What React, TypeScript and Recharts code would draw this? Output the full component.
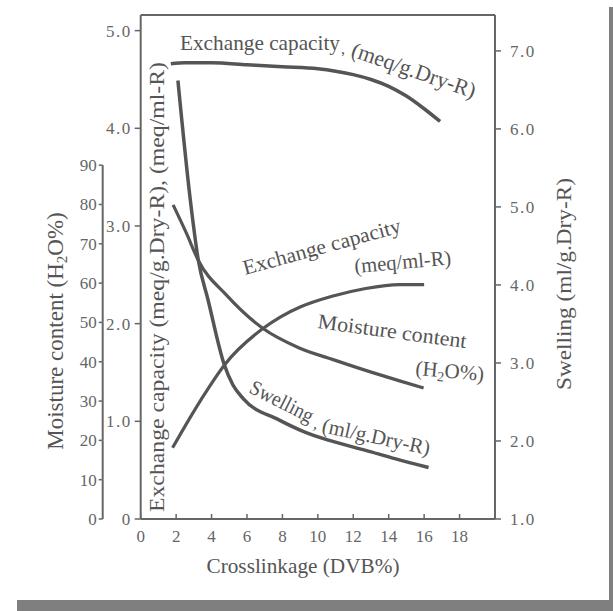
import React from "react";
import { ComposedChart, Line, XAxis, YAxis, ReferenceLine } from "recharts";

// axis ticks
const dvbTicks = [0, 2, 4, 6, 8, 10, 12, 14, 16, 18];
const capTicks = [0, 1, 2, 3, 4, 5];
const moistTicks = [0, 10, 20, 30, 40, 50, 60, 70, 80, 90];
const swellTicks = [1, 2, 3, 4, 5, 6, 7];

// Exchange capacity (meq/g.Dry-R)
const capDryDvb = [1.7, 2.5, 4, 6, 8, 10, 11, 12, 13, 14, 15, 16, 16.9];
const capDryVal = [4.66, 4.67, 4.67, 4.65, 4.63, 4.61, 4.585, 4.55, 4.5, 4.43, 4.33, 4.2, 4.07];

// Exchange capacity (meq/ml-R)
const capWetDvb = [1.8, 3.4, 4.74, 6.9, 7.9, 9, 10.8, 12.7, 14.6, 16];
const capWetVal = [0.73, 1.22, 1.58, 1.95, 2.07, 2.17, 2.28, 2.36, 2.4, 2.4];

// Moisture content (H2O%)
const moistDvb = [1.83, 2.58, 3.24, 4.83, 6.89, 8.95, 10.82, 12.7, 14.57, 15.97];
const moistVal = [79.9, 72.7, 65.9, 57.0, 48.5, 43.5, 40.6, 37.8, 35.2, 33.3];

// Swelling (ml/g.Dry-R)
const swellDvb = [2.1, 2.8, 3.25, 3.8, 4.7, 5.2, 5.8, 7.8, 9.2, 10.6, 12.7, 14.4, 16.25];
const swellVal = [6.62, 5.09, 4.32, 3.81, 2.99, 2.72, 2.54, 2.27, 2.12, 2.01, 1.88, 1.77, 1.66];

const pairs = (xs: number[], ys: number[]) => xs.map((x, i) => ({ x, y: ys[i] }));

const CAP_MAX = 5.16;
const MOIST_MAX = 128.2;
const SWELL_MAX = 7.46;
const PLOT_H = 504;

const SERIF = "Liberation Serif";
const INK = "#555";
const TICK = "#666";

const tickStyle = { fontSize: 17, fill: TICK, fontFamily: SERIF, letterSpacing: 1.5 };

const BottomTick = (props: any) => {
  const { x, y, payload } = props;
  return (
    <g>
      <line x1={x} y1={y} x2={x} y2={y - 5} stroke={TICK} strokeWidth={1.5} />
      <text x={x} y={y + 23} textAnchor="middle" fontSize={17} fill={TICK} fontFamily={SERIF}>
        {payload.value}
      </text>
    </g>
  );
};

const MoistTick = (props: any) => {
  const { x, y, payload } = props;
  const axisX = x + 6;
  const step = (PLOT_H * 10) / MOIST_MAX;
  return (
    <g>
      {payload.value > 0 && (
        <line x1={axisX} y1={y} x2={axisX} y2={y + step} stroke={TICK} strokeWidth={2} />
      )}
      <text x={x} y={y} dy="0.35em" textAnchor="end" fontSize={17} fill={TICK} fontFamily={SERIF}>
        {payload.value}
      </text>
    </g>
  );
};

const lbl = { fontFamily: SERIF, fill: INK, fontSize: 21 } as const;

export default function App() {
  return (
    <div style={{ position: "relative", width: 605, height: 603 }}>
      <style>{`html{overflow:hidden}`}</style>
      <ComposedChart width={605} height={603} margin={{ top: 7, right: 68, bottom: 62, left: 54.7 }}>
        <XAxis
          dataKey="x"
          type="number"
          domain={[0, 20]}
          ticks={dvbTicks}
          allowDataOverflow
          height={30}
          tickSize={0}
          tickMargin={0}
          tick={<BottomTick />}
          axisLine={{ stroke: TICK, strokeWidth: 2 }}
        />
        <YAxis
          yAxisId="cap"
          orientation="left"
          width={38}
          domain={[0, CAP_MAX]}
          ticks={capTicks}
          allowDataOverflow
          tickFormatter={(v: number) => (v === 0 ? "0" : v.toFixed(1))}
          tickSize={6}
          tickMargin={3}
          tick={tickStyle}
          tickLine={{ stroke: TICK, strokeWidth: 1.5 }}
          axisLine={{ stroke: TICK, strokeWidth: 2 }}
        />
        <YAxis
          yAxisId="moist"
          orientation="left"
          width={40}
          domain={[0, MOIST_MAX]}
          ticks={moistTicks}
          allowDataOverflow
          axisLine={false}
          tickSize={4}
          tickMargin={2}
          tick={<MoistTick />}
          tickLine={{ stroke: TICK, strokeWidth: 1.5 }}
        />
        <YAxis
          yAxisId="swell"
          orientation="right"
          width={50}
          domain={[1, SWELL_MAX]}
          ticks={swellTicks}
          allowDataOverflow
          tickFormatter={(v: number) => v.toFixed(1)}
          tickSize={6}
          tickMargin={9}
          tick={tickStyle}
          tickLine={{ stroke: TICK, strokeWidth: 1.5 }}
          axisLine={{ stroke: TICK, strokeWidth: 2 }}
        />
        <ReferenceLine yAxisId="cap" y={CAP_MAX} stroke={TICK} strokeWidth={2} />
        <Line data={pairs(capDryDvb, capDryVal)} dataKey="y" yAxisId="cap" type="monotone" dot={false} stroke={INK} strokeWidth={3.5} isAnimationActive={false} />
        <Line data={pairs(capWetDvb, capWetVal)} dataKey="y" yAxisId="cap" type="monotone" dot={false} stroke={INK} strokeWidth={3.2} isAnimationActive={false} />
        <Line data={pairs(moistDvb, moistVal)} dataKey="y" yAxisId="moist" type="monotone" dot={false} stroke={INK} strokeWidth={3.2} isAnimationActive={false} />
        <Line data={pairs(swellDvb, swellVal)} dataKey="y" yAxisId="swell" type="monotone" dot={false} stroke={INK} strokeWidth={3.5} isAnimationActive={false} />
      </ComposedChart>

      <svg width={613} height={611} style={{ position: "absolute", left: -8, top: -8, pointerEvents: "none" }}>
        <text x={180} y={50} {...lbl} textLength={160} lengthAdjust="spacingAndGlyphs">Exchange capacity</text>
        <text x={341} y={54} {...lbl} fontSize={16}>,</text>
        <text transform="translate(350,56) rotate(19)" {...lbl} fontSize={22} textLength={130} lengthAdjust="spacingAndGlyphs">(meq/g.Dry-R)</text>

        <text transform="translate(245,275) rotate(-15.3)" {...lbl} textLength={163} lengthAdjust="spacingAndGlyphs">Exchange capacity</text>
        <text transform="translate(355,273) rotate(-5)" {...lbl} textLength={97} lengthAdjust="spacingAndGlyphs">(meq/ml-R)</text>

        <text transform="translate(317,328) rotate(7.7)" {...lbl} textLength={150} lengthAdjust="spacingAndGlyphs">Moisture content</text>
        <text transform="translate(415,375) rotate(5)" {...lbl}>
          (H<tspan fontSize={14} dy={4}>2</tspan><tspan dy={-4}>O%)</tspan>
        </text>

        <text transform="translate(248,392) rotate(27)" {...lbl} textLength={69} lengthAdjust="spacingAndGlyphs">Swelling</text>
        <text transform="translate(313,428) rotate(20)" {...lbl} fontSize={16}>,</text>
        <text transform="translate(321,432) rotate(12.2)" {...lbl} textLength={110} lengthAdjust="spacingAndGlyphs">(ml/g.Dry-R)</text>

        <text transform="translate(63,331) rotate(-90)" {...lbl} fontSize={23} textAnchor="middle">
          Moisture content (H<tspan fontSize={15} dy={4}>2</tspan><tspan dy={-4}>O%)</tspan>
        </text>
        <text transform="translate(164,287) rotate(-90)" {...lbl} fontSize={22} textAnchor="middle" textLength={450} lengthAdjust="spacingAndGlyphs">
          Exchange capacity (meq/g.Dry-R), (meq/ml-R)
        </text>
        <text transform="translate(571,284) rotate(-90)" {...lbl} fontSize={22} textAnchor="middle" textLength={212} lengthAdjust="spacingAndGlyphs">
          Swelling (ml/g.Dry-R)
        </text>
        <text x={303} y={573} {...lbl} textAnchor="middle" textLength={193} lengthAdjust="spacingAndGlyphs">
          Crosslinkage (DVB%)
        </text>
      </svg>

      <div style={{ position: "fixed", left: 17, top: 600, width: 596, height: 11, background: "#7f7f7f" }} />
      <div style={{ position: "fixed", left: 609, top: 7, width: 4, height: 604, background: "#7f7f7f" }} />
    </div>
  );
}
